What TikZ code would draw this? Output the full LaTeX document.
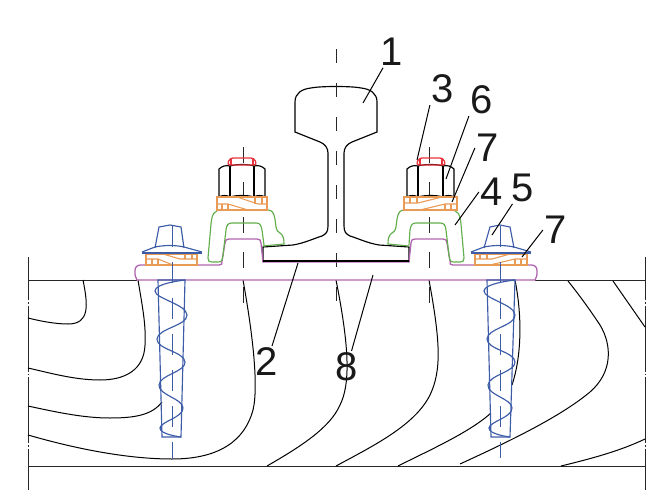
\documentclass[tikz,border=0pt]{standalone}
\usepackage{fontspec}
\newfontfamily\labelfont{Liberation Sans}
\usepackage{xcolor}
\definecolor{platecol}{HTML}{B066AE}
\definecolor{clipcol}{HTML}{62AE4C}
\definecolor{washercol}{HTML}{E99A55}
\definecolor{boltcol}{HTML}{3D5CA8}
\definecolor{capcol}{HTML}{E8323C}
\tikzset{
  railline/.style={draw=black,line width=1.15pt},
  woodline/.style={draw=black,line width=1pt},
  frameline/.style={draw=black!85,line width=1pt},
  plateline/.style={draw=platecol,line width=1.3pt},
  clipline/.style={draw=clipcol,line width=1.15pt},
  washerline/.style={draw=washercol,line width=1.1pt},
  boltline/.style={draw=boltcol,line width=1.15pt},
  capline/.style={draw=capcol,line width=1.3pt},
  axisrail/.style={draw=black!85,line width=1pt,dash pattern=on 14pt off 20pt},
  axisnut/.style={draw=black!85,line width=1pt,dash pattern=on 16pt off 19pt},
  axisbolt/.style={draw=boltcol,line width=1pt,dash pattern=on 21pt off 15pt},
  axisframe/.style={draw=black!85,line width=1pt,dash pattern=on 66pt off 2pt on 1.5pt off 2pt,dash phase=23pt},
  leader/.style={draw=black,line width=1pt},
  numlabel/.style={font=\labelfont\fontsize{40}{40}\selectfont,text=black!90,inner sep=0pt,outer sep=2pt}
}
\begin{document}
\begin{tikzpicture}[x=1pt,y=-1pt]
    \useasboundingbox (0,0) rectangle (666,500);
    % timber
    \draw[frameline] (28,280) -- (137,280);
    \draw[frameline] (535,280) -- (645,280);
    \draw[frameline] (28,466) -- (645,466);
    \draw[axisframe] (28,257) -- (28,490);
    \draw[axisframe] (645,257) -- (645,490);
    \draw[woodline] (83,280) .. controls (88,305) and (90,324) .. (68,324) .. controls (55,324) and (40,321) .. (28,318);
    \draw[woodline] (138,280) .. controls (143,310) and (146,325) .. (145,345) .. controls (144,370) and (125,380) .. (100,380) .. controls (75,380) and (50,373) .. (28,368);
    \draw[woodline] (28,406) .. controls (60,413) and (85,418) .. (110,418) .. controls (135,418) and (152,415) .. (162,402);
    \draw[woodline] (28,435) .. controls (80,450) and (130,459) .. (172,459) .. controls (220,459) and (245,440) .. (253,410) .. controls (259,385) and (252,330) .. (243,280);
    \draw[woodline] (267,466) .. controls (300,447) and (330,428) .. (340,405) .. controls (350,385) and (350,350) .. (336,280);
    \draw[woodline] (336,466) .. controls (375,445) and (415,425) .. (430,395) .. controls (442,370) and (440,340) .. (429,280);
    \draw[woodline] (398,466) .. controls (430,450) and (470,432) .. (491,413);
    \draw[woodline] (460,464) .. controls (510,441) and (560,417) .. (590,392) .. controls (613,372) and (612,345) .. (600,325) .. controls (590,310) and (580,296) .. (568,281);
    \draw[woodline] (561,466) .. controls (590,459) and (620,451) .. (645,439);
    \draw[woodline] (613,281) -- (645,327);
    \draw[woodline] (515,280) .. controls (522,315) and (522,355) .. (512,385);
    % rail
    \draw[railline] (263,262) -- (263,247) -- (293,245) .. controls (305,243) and (315,238) .. (322,236)
      .. controls (326,234) and (328,232) .. (328,226) -- (328,153) .. controls (328,148) and (325,144) .. (320,142)
      -- (295,132) -- (295,102) .. controls (295,93) and (302,89) .. (311,88) .. controls (320,86) and (352,86) .. (361,88)
      .. controls (370,89) and (377,93) .. (377,102) -- (377,132) -- (352,142) .. controls (347,144) and (344,148) .. (344,153)
      -- (344,226) .. controls (344,232) and (346,234) .. (350,236) .. controls (357,238) and (367,243) .. (379,245)
      -- (409,247) -- (409,262);
    \draw[axisrail] (336,49) -- (336,302);
    \draw[axisnut] (243,147) -- (243,303);
    \draw[axisnut] (429,147) -- (429,303);
    % plate
    \draw[plateline] (137,280) .. controls (135,277) and (135,275) .. (135,271) .. controls (135,267) and (137,265) .. (141,265)
      -- (219,265) .. controls (222,265) and (222,264) .. (222,261) -- (225,243) .. controls (225.5,240) and (226,239) .. (229,239)
      -- (257,239) .. controls (260,239) and (260.5,240) .. (261,243) -- (263,262) -- (409,262) -- (411,243)
      .. controls (411.5,240) and (412,239) .. (415,239) -- (443,239) .. controls (446,239) and (446.5,240) .. (447,243)
      -- (450,261) .. controls (450,264) and (450,265) .. (453,265) -- (531,265) .. controls (535,265) and (537,267) .. (537,271)
      .. controls (537,275) and (537,277) .. (535,280) -- cycle;
    \draw[draw=black,line width=2.2pt] (263,261) -- (409,261);
    % clips
    \draw[clipline] (264,245) -- (262,230) .. controls (261,225) and (260,223) .. (256,223) -- (232,223)
      .. controls (228,223) and (226.5,225) .. (226,230) -- (223,255) .. controls (222.5,260) and (222,262) .. (218,262)
      -- (212,262) .. controls (209,262) and (208,261) .. (208,258) -- (211,224) .. controls (212,214) and (214,210) .. (222,210)
      -- (268,210) .. controls (272,210) and (274,213) .. (275,219) -- (276,227) .. controls (277,231) and (278,232) .. (280,233)
      .. controls (283,235) and (284,238) .. (284,244) -- (263,246);
    \draw[clipline] (409,246) -- (388,244) .. controls (388,238) and (389,235) .. (392,233) .. controls (394,232) and (395,231) .. (396,227)
      -- (397,219) .. controls (398,213) and (400,210) .. (404,210) -- (450,210) .. controls (458,210) and (460,214) .. (461,224)
      -- (464,258) .. controls (464,261) and (463,262) .. (460,262) -- (454,262) .. controls (450,262) and (449.5,260) .. (449,255)
      -- (446,230) .. controls (445.5,225) and (444,223) .. (440,223) -- (416,223) .. controls (412,223) and (411,225) .. (410,230) -- (409,245);
    % nuts
    \draw[railline] (219,197) -- (219,169) .. controls (222,166) and (226,165) .. (230,166) .. controls (236,164) and (248,164) .. (254,166)
      .. controls (258,165) and (262,166) .. (265,169) -- (265,197) .. controls (262,195) and (257,195) .. (254,197)
      .. controls (248,195) and (236,195) .. (230,197) .. controls (227,195) and (222,195) .. (219,197);
    \draw[railline] (230,166) -- (230,197);
    \draw[railline] (254,166) -- (254,197);
    \draw[railline] (407,197) -- (407,169) .. controls (410,166) and (414,165) .. (418,166) .. controls (424,164) and (437,164) .. (443,166)
      .. controls (447,165) and (451,166) .. (454,169) -- (454,197) .. controls (451,195) and (446,195) .. (443,197)
      .. controls (437,195) and (424,195) .. (418,197) .. controls (415,195) and (410,195) .. (407,197);
    \draw[railline] (418,166) -- (418,197);
    \draw[railline] (443,166) -- (443,197);
    \draw[capline,rounded corners=3pt] (227,165) -- (230,158) -- (254,158) -- (257,165) -- cycle;
    \draw[capline] (231,158) -- (231,165);
    \draw[capline] (253,158) -- (253,165);
    \draw[capline,rounded corners=3pt] (416,165) -- (419,158) -- (443,158) -- (446,165) -- cycle;
    \draw[capline] (420,158) -- (420,165);
    \draw[capline] (442,158) -- (442,165);
    % washers
    \draw[washerline] (217,197) rectangle (267,210);
    \draw[washerline] (217,204) -- (228,204) -- (248,210);
    \draw[washerline] (237,197) -- (258,204) -- (267,204);
    \draw[washerline] (222,204) -- (222,210);
    \draw[washerline] (228,204) -- (228,210);
    \draw[washerline] (255,197) -- (255,204);
    \draw[washerline] (262,197) -- (262,204);
    \draw[washerline] (404,197) rectangle (457,210);
    \draw[washerline] (404,203) -- (418,203) -- (442,197);
    \draw[washerline] (420,210) -- (445,204) -- (457,204);
    \draw[washerline] (410,197) -- (410,203);
    \draw[washerline] (417,197) -- (417,203);
    \draw[washerline] (445,204) -- (445,210);
    \draw[washerline] (451,204) -- (451,210);
    \draw[washerline] (146,254) rectangle (197,265);
    \draw[washerline] (146,259) -- (158,259) -- (173,265);
    \draw[washerline] (163,254) -- (180,259) -- (197,259);
    \draw[washerline] (152,259) -- (152,265);
    \draw[washerline] (158,259) -- (158,265);
    \draw[washerline] (185,254) -- (185,259);
    \draw[washerline] (192,254) -- (192,259);
    \draw[washerline] (475,254) rectangle (527,265);
    \draw[washerline] (475,259) -- (492,259) -- (510,254);
    \draw[washerline] (490,265) -- (515,259) -- (527,259);
    \draw[washerline] (480,254) -- (480,259);
    \draw[washerline] (487,254) -- (487,259);
    \draw[washerline] (515,259) -- (515,265);
    \draw[washerline] (521,259) -- (521,265);
    % bolts
    \draw[boltline] (155,248) -- (159,227) -- (170,225) -- (181,227) -- (184,248);
    \draw[boltline] (142,252) -- (155,247) .. controls (165,245) and (175,245) .. (184,247) -- (202,252);
    \draw[boltcol,line width=2pt] (142,253) -- (202,253);
    \draw[boltline] (158,280) -- (185,280) -- (181,437) -- (162,437) -- cycle;
    \draw[boltline] plot[smooth,tension=0.8] coordinates {(185,280) (155,291) (187,315) (157,339) (185,362) (159,385) (183,408) (160,428) (181,437)};
    \draw[axisbolt] (172,226) -- (172,459);
    \draw[boltline] (484,248) -- (490,227) -- (500,225) -- (510,227) -- (514,248);
    \draw[boltline] (471,252) -- (484,247) .. controls (494,245) and (504,245) .. (514,247) -- (531,252);
    \draw[boltcol,line width=2pt] (471,253) -- (531,253);
    \draw[boltline] (487,280) -- (515,280) -- (510,437) -- (491,437) -- cycle;
    \draw[boltline] plot[smooth,tension=0.8] coordinates {(515,280) (484,291) (515,315) (487,339) (515,362) (488,385) (512,408) (489,428) (510,437)};
    \draw[axisbolt] (500,226) -- (500,458);
    % labels
    \node[numlabel] (n1) at (392,52) {1};
    \node[numlabel] (n2) at (267,362) {2};
    \node[numlabel] (n3) at (443,89) {3};
    \node[numlabel] (n4) at (492,192) {4};
    \node[numlabel] (n5) at (523,188) {5};
    \node[numlabel] (n6) at (482,100) {6};
    \node[numlabel] (n7a) at (488,148) {7};
    \node[numlabel] (n7b) at (556,230) {7};
    \node[numlabel] (n8) at (347,367) {8};
    \coordinate (t1) at (363,103);
    \coordinate (t2) at (298,263);
    \coordinate (t3) at (417,160);
    \coordinate (t4) at (455,225);
    \coordinate (t5) at (492,235);
    \coordinate (t6) at (446,179);
    \coordinate (t7a) at (452,202);
    \coordinate (t7b) at (522,257);
    \coordinate (t8) at (373,275);
    \draw[leader] (n1) -- (t1);
    \draw[leader] (n2) -- (t2);
    \draw[leader] (n3.south west) -- (t3);
    \draw[leader] (n4.west) -- (t4);
    \draw[leader] (n5) -- (t5);
    \draw[leader] (n6.south west) -- (t6);
    \draw[leader] (n7a.west) -- (t7a);
    \draw[leader] (n7b.west) -- (t7b);
    \draw[leader] (n8) -- (t8);
  \end{tikzpicture}
\end{document}
